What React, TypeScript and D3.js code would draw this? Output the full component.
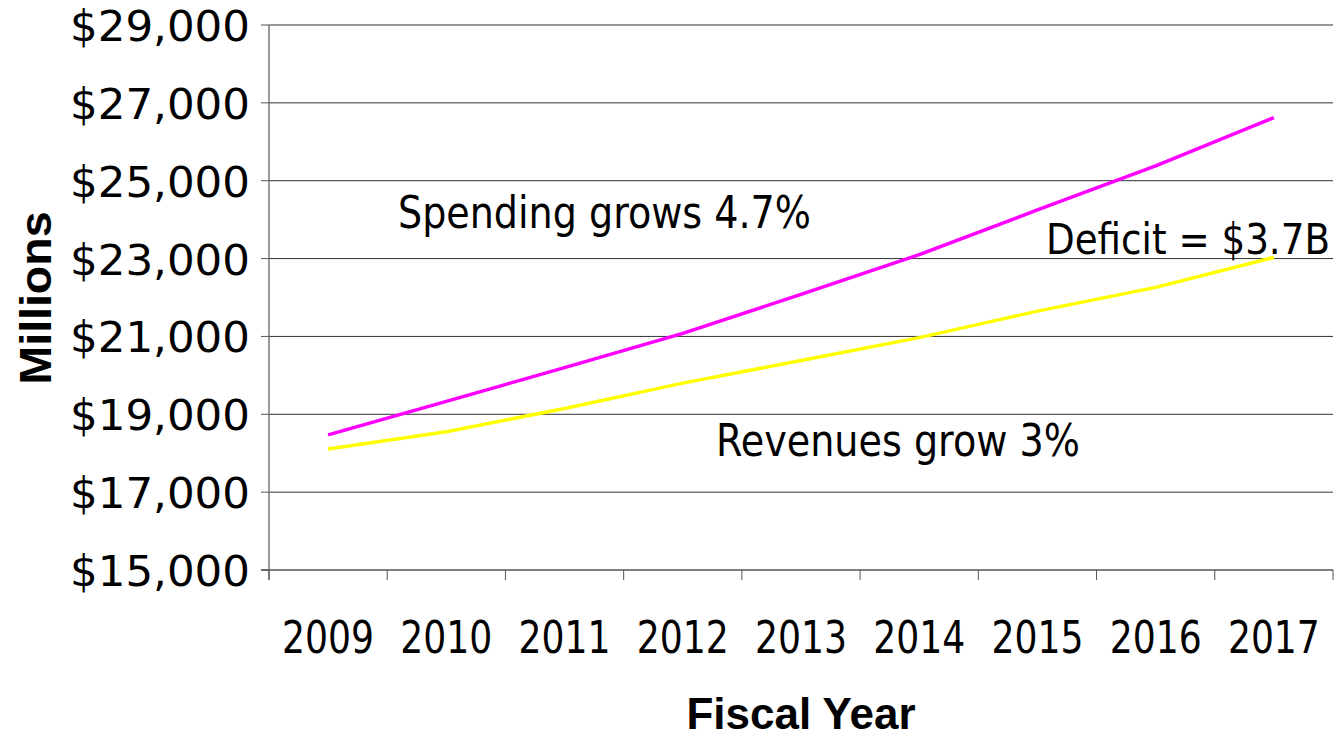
import React from "react";
import * as d3 from "d3";

const years = ["2009", "2010", "2011", "2012", "2013", "2014", "2015", "2016", "2017"];
const spending = [18470, 19330, 20200, 21080, 22080, 23100, 24250, 25380, 26620];
const revenues = [18110, 18550, 19150, 19800, 20380, 20970, 21650, 22260, 23030];
const yTicks = [15000, 17000, 19000, 21000, 23000, 25000, 27000, 29000];

const W = 1340;
const H = 732;
const left = 269;
const right = 1333;
const top = 25;
const bottom = 570;
const FONT = "'DejaVu Sans', 'Liberation Sans', sans-serif";
const BOLD = "'Liberation Sans', Arial, sans-serif";

export default function App() {
  const x = d3.scaleBand<string>().domain(years).range([left, right]).padding(0);
  const y = d3.scaleLinear().domain([15000, 29000]).range([bottom, top]);
  const cx = (d: string) => (x(d) as number) + x.bandwidth() / 2;
  const line = d3
    .line<number>()
    .x((_, i) => cx(years[i]))
    .y((v) => y(v));
  const fmt = (v: number) => "$" + d3.format(",")(v);
  const bounds = [...years.map((d) => x(d) as number), right];

  return (
    <svg
      width={W}
      height={H}
      style={{ position: "absolute", left: 0, top: 0, background: "#fff" }}
    >
      {/* gridlines */}
      {yTicks.slice(1).map((t) => (
        <line key={t} x1={left} x2={right} y1={y(t)} y2={y(t)} stroke="#333" strokeWidth={1} />
      ))}
      {/* y axis */}
      <line x1={left} x2={left} y1={top} y2={bottom + 10} stroke="#777" strokeWidth={1.5} />
      {yTicks.map((t) => (
        <line key={"yt" + t} x1={left - 8} x2={left} y1={y(t)} y2={y(t)} stroke="#555" strokeWidth={1} />
      ))}
      {/* x axis */}
      <line x1={left - 8} x2={right} y1={bottom} y2={bottom} stroke="#555" strokeWidth={1.5} />
      {bounds.map((b, i) => (
        <line key={"xt" + i} x1={b} x2={b} y1={bottom} y2={bottom + 10} stroke="#555" strokeWidth={1} />
      ))}
      {/* y tick labels */}
      {yTicks.map((t) => (
        <text
          key={"yl" + t}
          x={250}
          y={y(t) + 16}
          textAnchor="end"
          fontFamily={FONT}
          fontSize={43}
          textLength={180}
          lengthAdjust="spacingAndGlyphs"
        >
          {fmt(t)}
        </text>
      ))}
      {/* x tick labels */}
      {years.map((d) => (
        <text
          key={"xl" + d}
          x={cx(d)}
          y={653}
          textAnchor="middle"
          fontFamily={FONT}
          fontSize={45}
          textLength={92}
          lengthAdjust="spacingAndGlyphs"
        >
          {d}
        </text>
      ))}
      {/* axis titles */}
      <text
        x={801}
        y={729}
        textAnchor="middle"
        fontFamily={BOLD}
        fontWeight="bold"
        fontSize={44}
        textLength={229}
        lengthAdjust="spacingAndGlyphs"
      >
        Fiscal Year
      </text>
      <text
        transform="translate(51,298) rotate(-90)"
        textAnchor="middle"
        fontFamily={BOLD}
        fontWeight="bold"
        fontSize={44}
        textLength={173}
        lengthAdjust="spacingAndGlyphs"
      >
        Millions
      </text>
      {/* series */}
      <path d={line(revenues) as string} fill="none" stroke="#FFFF00" strokeWidth={3.5} />
      <path d={line(spending) as string} fill="none" stroke="#FF00FF" strokeWidth={3.5} />
      {/* annotations */}
      <text x={398} y={228} fontFamily={FONT} fontSize={44} textLength={413} lengthAdjust="spacingAndGlyphs">
        Spending grows 4.7%
      </text>
      <text x={716} y={456} fontFamily={FONT} fontSize={44} textLength={364} lengthAdjust="spacingAndGlyphs">
        Revenues grow 3%
      </text>
      <text x={1046} y={254} fontFamily={FONT} fontSize={42} textLength={284} lengthAdjust="spacingAndGlyphs">
        Deficit = $3.7B
      </text>
    </svg>
  );
}
